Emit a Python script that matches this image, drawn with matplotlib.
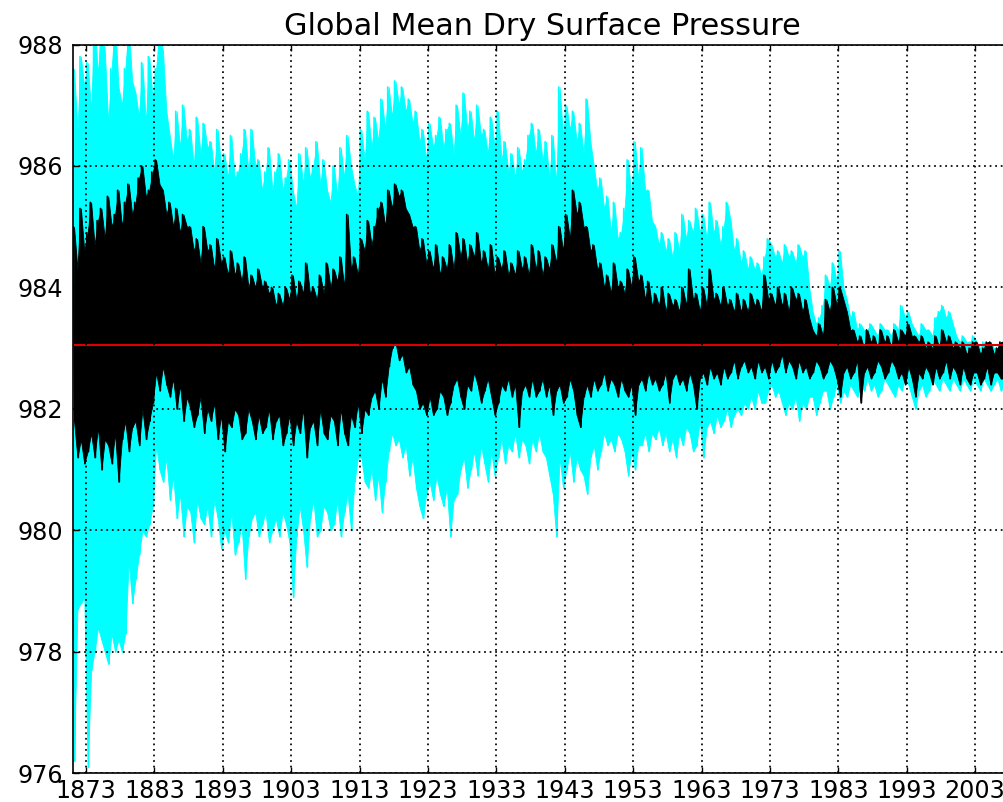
import matplotlib
matplotlib.use('Agg')
import matplotlib.pyplot as plt
import numpy as np

# half-year peaks / troughs, 1871.0 .. 2008.5 (two per year)
cyan_hi = [
    987.6, 986.6, 987.8, 987.3, 987.7, 986.9, 988.4, 987.5, 988.4, 987.9,
    986.7, 987.6, 988.4, 987.3, 987.0, 987.6, 988.3, 987.4, 987.2, 986.8,
    987.7, 986.7, 987.8, 987.1, 987.6, 988.2, 987.9, 986.9, 986.5, 986.1,
    986.9, 986.3, 987.0, 986.4, 986.6, 986.0, 986.8, 986.2, 986.7, 986.3,
    986.4, 985.9, 986.6, 986.0, 986.2, 985.8, 986.5, 985.8, 985.9, 986.2,
    986.6, 985.9, 986.6, 986.0, 986.1, 985.6, 985.9, 986.3, 985.6, 985.9,
    986.2, 985.6, 985.8, 986.1, 985.6, 985.3, 986.2, 985.7, 986.3, 985.8,
    986.0, 986.4, 985.7, 986.1, 985.6, 985.4, 986.0, 985.5, 986.3, 985.8,
    986.5, 986.0, 985.7, 985.5, 986.6, 986.1, 986.9, 986.3, 986.8, 986.4,
    987.1, 986.6, 987.3, 986.8, 987.4, 987.0, 987.3, 986.9, 987.1, 986.7,
    986.9, 986.4, 986.6, 986.1, 986.7, 986.3, 986.5, 986.8, 986.3, 986.6,
    986.7, 986.2, 987.0, 986.5, 987.2, 986.6, 986.9, 986.4, 987.0, 986.5,
    986.6, 986.2, 986.8, 986.3, 986.9, 986.1, 986.4, 985.9, 986.2, 985.8,
    986.3, 985.9, 986.1, 986.5, 986.7, 986.2, 986.6, 986.1, 986.4, 985.8,
    986.5, 985.7, 987.3, 986.5, 987.0, 986.6, 986.9, 986.4, 986.7, 986.2,
    987.1, 986.4, 986.0, 985.6, 985.8, 985.3, 985.5, 984.9, 985.4, 984.8,
    984.9, 985.3, 986.1, 985.5, 986.4, 985.8, 986.3, 985.6, 985.6, 985.1,
    985.0, 984.7, 984.9, 984.6, 984.8, 984.5, 984.9, 984.6, 985.2, 984.8,
    985.1, 984.9, 985.3, 984.9, 985.2, 984.8, 985.4, 984.9, 985.1, 984.7,
    985.0, 985.4, 985.1, 984.6, 984.8, 984.4, 984.6, 984.3, 984.5, 984.3,
    984.4, 984.2, 984.5, 984.8, 984.7, 984.5, 984.6, 984.4, 984.7, 984.5,
    984.6, 984.4, 984.7, 984.5, 984.6, 984.0, 983.6, 983.4, 983.5, 983.7,
    984.2, 984.0, 984.4, 984.1, 984.6, 984.0, 983.8, 983.5, 983.6, 983.3,
    983.4, 983.3, 983.3, 983.4, 983.3, 983.2, 983.4, 983.3, 983.3, 983.2,
    983.4, 983.3, 983.7, 983.5, 983.6, 983.4, 983.3, 983.2, 983.4, 983.3,
    983.3, 983.2, 983.5, 983.6, 983.7, 983.5, 983.6, 983.4, 983.2, 983.1,
    983.2, 983.1, 983.1, 983.2, 983.1, 983.0, 983.1, 983.0, 983.1, 983.0,
    983.0, 983.1, 983.1, 983.0, 983.0, 983.1,
]
cyan_lo = [
    976.2, 978.7, 978.8, 978.9, 976.1, 977.7, 978.0, 978.4, 978.2, 978.0,
    977.8, 978.3, 978.0, 978.2, 978.0, 978.3, 979.5, 978.8, 979.2, 979.6,
    980.0, 979.9, 980.1, 980.4, 981.4, 981.0, 980.8, 981.2, 980.5, 980.9,
    980.2, 980.6, 979.9, 980.4, 980.3, 979.8, 980.5, 980.2, 980.1, 980.4,
    979.9, 980.5, 980.2, 979.7, 980.0, 979.8, 980.3, 979.6, 979.8, 980.1,
    979.2, 979.9, 980.2, 980.3, 979.9, 980.1, 980.3, 979.8, 980.0, 980.2,
    979.9, 980.3, 980.1, 979.8, 978.9, 979.9, 980.4, 980.0, 979.4, 980.2,
    980.5, 979.9, 980.0, 980.4, 980.3, 980.0, 980.1, 980.5, 979.9, 980.3,
    980.6, 980.0, 980.8, 981.2, 981.2, 980.8, 980.7, 981.0, 980.5, 980.9,
    980.3, 980.8, 981.3, 981.6, 981.4, 981.5, 981.2, 981.4, 980.9, 981.2,
    980.7, 980.4, 980.2, 980.6, 980.8, 980.5, 980.9, 980.6, 980.4, 980.7,
    979.9, 980.5, 980.6, 981.0, 981.2, 980.7, 981.0, 981.3, 980.9, 981.4,
    981.1, 980.8, 981.3, 980.9, 981.2, 981.5, 981.1, 981.4, 981.3, 981.6,
    981.2, 981.5, 981.4, 981.1, 981.5, 981.3, 981.6, 981.3, 981.2, 980.9,
    980.6, 979.9, 981.2, 980.7, 981.0, 981.3, 980.8, 981.2, 981.0, 980.9,
    980.6, 981.2, 981.4, 981.0, 981.3, 981.6, 981.4, 981.5, 981.3, 981.6,
    981.5, 981.3, 980.9, 981.3, 981.0, 981.4, 981.4, 981.6, 981.3, 981.6,
    981.5, 981.7, 981.4, 981.6, 981.3, 981.5, 981.2, 981.6, 981.4, 981.7,
    981.6, 981.3, 981.4, 981.8, 981.2, 981.7, 981.8, 981.6, 981.9, 981.7,
    981.8, 982.0, 981.7, 981.9, 982.0, 981.9, 982.1, 982.0, 982.2, 982.0,
    982.3, 982.1, 982.1, 982.3, 982.4, 982.2, 982.3, 982.1, 981.9, 982.1,
    982.0, 982.2, 981.8, 982.1, 982.0, 982.2, 982.2, 981.9, 982.1, 982.3,
    982.3, 982.0, 982.2, 982.4, 982.1, 982.3, 982.2, 982.4, 982.3, 982.2,
    982.4, 982.3, 982.5, 982.3, 982.4, 982.2, 982.3, 982.5, 982.4, 982.3,
    982.2, 982.4, 982.3, 982.5, 982.4, 982.2, 982.0, 982.3, 982.4, 982.2,
    982.3, 982.5, 982.4, 982.3, 982.5, 982.4, 982.3, 982.5, 982.4, 982.3,
    982.5, 982.4, 982.3, 982.5, 982.4, 982.3, 982.5, 982.4, 982.3, 982.4,
    982.5, 982.3, 982.4, 982.5, 982.3, 982.4,
]
black_hi = [
    985.0, 984.3, 985.3, 984.6, 984.9, 985.4, 984.7, 985.1, 985.3, 984.8,
    985.5, 985.0, 985.2, 985.6, 985.0, 985.4, 985.7, 985.2, 985.4, 985.8,
    986.0, 985.5, 985.6, 985.9, 986.1, 985.7, 985.6, 985.2, 985.4, 985.0,
    985.3, 984.9, 985.2, 985.0, 985.0, 984.6, 984.8, 984.4, 985.0, 984.6,
    984.7, 984.3, 984.8, 984.4, 984.5, 984.2, 984.6, 984.2, 984.4, 984.1,
    984.5, 984.0, 984.2, 984.0, 984.3, 984.0, 984.1, 983.9, 984.0, 983.7,
    983.9, 983.7, 984.0, 983.8, 984.2, 983.8, 984.1, 983.9, 984.4, 983.9,
    984.0, 983.8, 984.2, 983.9, 984.4, 984.0, 984.3, 984.1, 984.5, 984.0,
    985.2, 984.3, 984.5, 984.2, 984.8, 984.6, 985.1, 984.7, 985.0, 985.3,
    985.4, 985.0, 985.6, 985.3, 985.7, 985.5, 985.6, 985.3, 985.2, 985.0,
    985.0, 984.6, 984.8, 984.4, 984.6, 984.3, 984.7, 984.2, 984.5, 984.3,
    984.7, 984.3, 984.9, 984.5, 984.8, 984.4, 984.7, 984.5, 984.9, 984.4,
    984.6, 984.3, 984.7, 984.2, 984.5, 984.3, 984.6, 984.2, 984.4, 984.2,
    984.6, 984.3, 984.5, 984.2, 984.7, 984.3, 984.6, 984.2, 984.5, 984.3,
    984.7, 984.4, 985.0, 984.6, 985.2, 984.8, 985.6, 985.2, 985.4, 985.0,
    985.0, 984.6, 984.7, 984.3, 984.4, 984.0, 984.2, 983.9, 984.4, 984.0,
    984.1, 983.9, 984.3, 984.0, 984.5, 984.1, 984.2, 983.8, 984.1, 983.7,
    983.9, 983.7, 984.0, 983.6, 983.9, 983.7, 983.8, 983.6, 984.0, 983.7,
    984.3, 983.8, 983.9, 983.6, 984.0, 983.7, 984.3, 983.8, 983.9, 983.7,
    984.0, 983.7, 983.8, 983.6, 983.9, 983.6, 983.8, 983.6, 983.9, 983.7,
    983.8, 983.6, 984.2, 983.8, 983.9, 983.7, 984.0, 983.7, 983.9, 983.6,
    984.0, 983.8, 983.9, 983.6, 983.8, 983.5, 983.3, 983.2, 983.4, 983.2,
    983.8, 983.6, 984.0, 983.7, 984.0, 983.8, 983.6, 983.3, 983.3, 983.1,
    983.2, 983.0, 983.3, 983.1, 983.2, 983.0, 983.3, 983.1, 983.2, 983.0,
    983.3, 983.1, 983.3, 983.2, 983.4, 983.2, 983.2, 983.1, 983.2, 983.0,
    983.1, 983.0, 983.2, 983.0, 983.3, 983.1, 983.2, 983.0, 983.1, 983.0,
    983.1, 982.9, 983.0, 983.1, 983.1, 982.9, 983.0, 983.1, 983.1, 982.9,
    983.0, 983.1, 983.1, 982.9, 983.0, 983.0,
]
black_lo = [
    981.8, 981.2, 981.5, 981.1, 981.3, 981.6, 981.2, 981.7, 981.0, 981.5,
    981.4, 981.1, 981.6, 980.8, 981.5, 981.8, 981.3, 981.7, 981.8, 981.4,
    982.0, 981.5, 981.8, 982.1, 982.6, 982.3, 982.7, 982.4, 982.2, 982.5,
    982.0, 982.4, 981.8, 982.2, 982.0, 981.7, 981.9, 982.2, 981.6, 982.0,
    981.8, 982.1, 981.5, 981.9, 981.3, 981.8, 981.7, 982.0, 981.9, 981.5,
    981.6, 982.0, 981.8, 981.5, 981.9, 981.6, 981.7, 982.0, 981.5, 981.8,
    981.9, 981.4, 981.6, 981.9, 981.4, 981.8, 981.6, 982.0, 981.2, 981.7,
    981.8, 981.4, 982.0, 981.6, 981.5, 981.9, 981.8, 981.4, 982.0, 981.6,
    981.4, 981.9, 981.7, 982.1, 981.6, 982.0, 981.9, 982.2, 982.3, 982.0,
    982.5, 982.2, 982.7, 983.0, 983.1, 982.8, 982.9, 982.6, 982.7, 982.4,
    982.3, 982.0, 982.1, 981.9, 982.2, 981.9, 982.0, 982.3, 982.2, 981.9,
    982.1, 982.4, 982.5, 982.2, 982.0, 982.4, 982.3, 982.6, 982.4, 982.1,
    982.3, 982.5, 982.2, 981.9, 982.1, 982.4, 982.3, 982.5, 982.2, 982.4,
    981.7, 982.3, 982.4, 982.2, 982.5, 982.2, 982.3, 982.5, 982.2, 982.4,
    981.9, 982.3, 982.4, 982.1, 982.2, 982.5, 982.3, 981.9, 981.7, 982.2,
    982.4, 982.2, 982.5, 982.3, 982.4, 982.6, 982.3, 982.5, 982.4, 982.2,
    982.5, 982.3, 982.2, 982.4, 981.9, 982.4, 982.5, 982.3, 982.6, 982.4,
    982.5, 982.3, 982.4, 982.6, 982.1, 982.5, 982.6, 982.4, 982.5, 982.3,
    982.6, 982.4, 982.0, 982.5, 982.6, 982.4, 982.7, 982.5, 982.6, 982.4,
    982.7, 982.5, 982.6, 982.8, 982.5, 982.7, 982.8, 982.6, 982.7, 982.5,
    982.8, 982.6, 982.7, 982.5, 982.8, 982.6, 982.7, 982.9, 982.6, 982.8,
    982.7, 982.5, 982.8, 982.6, 982.7, 982.5, 982.6, 982.8, 982.7, 982.5,
    982.6, 982.8, 982.7, 982.5, 982.2, 982.6, 982.7, 982.5, 982.6, 982.8,
    982.1, 982.6, 982.7, 982.5, 982.6, 982.8, 982.7, 982.5, 982.6, 982.8,
    982.7, 982.5, 982.6, 982.4, 982.7, 982.5, 982.2, 982.6, 982.5, 982.7,
    982.6, 982.4, 982.7, 982.5, 982.6, 982.8, 982.5, 982.7, 982.6, 982.4,
    982.7, 982.5, 982.4, 982.6, 982.6, 982.4, 982.5, 982.7, 982.4, 982.6,
    982.6, 982.5, 982.5, 982.6, 982.4, 982.6,
]
mean_pressure = 983.05
start_year = 1871
year_ticks = list(range(1873, 2004, 10))
pressure_ticks = list(range(976, 989, 2))


def draw_band(ax, hi, lo, color, z):
    # solid band between the half-year peaks and troughs, plus a zigzag
    # through them for the spiky edges
    xh = start_year + 0.25 + 0.5 * np.arange(len(hi))
    ax.fill_between(xh, hi, lo, color=color, linewidth=0.6, edgecolor=color,
                    zorder=z)
    y = np.column_stack([hi, lo]).ravel()
    x = start_year + 0.125 + 0.25 * np.arange(len(y))
    ax.plot(x, y, color=color, linewidth=1.2, zorder=z + 0.05)


fig = plt.figure(figsize=(10.04, 8.02), dpi=100)
ax = fig.add_axes([0.0727, 0.0358, 0.9353, 0.9087])

draw_band(ax, cyan_hi, cyan_lo, 'cyan', 2.0)
draw_band(ax, black_hi, black_lo, 'black', 2.1)
ax.axhline(mean_pressure, color='#dd0000', linewidth=1.5, zorder=2.3)

ax.set_xlim(1871.1, 2008.4)
ax.set_ylim(976, 988)
ax.set_xticks(year_ticks)
ax.set_yticks(pressure_ticks)
ax.set_axisbelow(False)
ax.grid(True, color='black', linestyle=(0, (1, 2.2)), linewidth=1.25)
ax.tick_params(direction='in', top=True, right=True, length=4, width=1,
               labelsize=17.2)
ax.tick_params(axis='x', pad=4.0)
ax.tick_params(axis='y', pad=7.2)
for s in ax.spines.values():
    s.set_linewidth(1.2)

ax.set_title('Global Mean Dry Surface Pressure', fontsize=21.8, pad=7.2)

fig.savefig('out.png', dpi=100)
